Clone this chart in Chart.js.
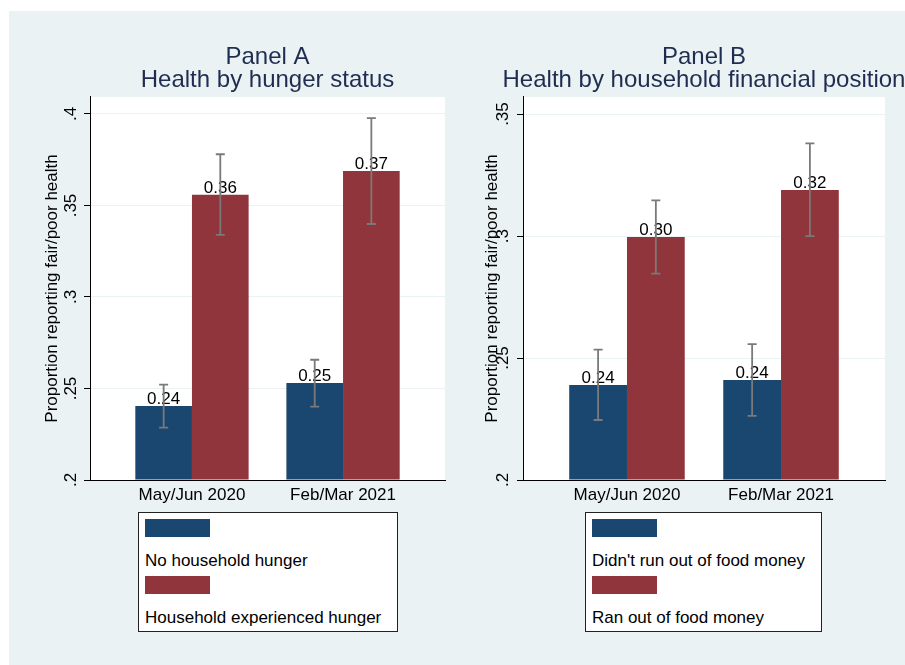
<!DOCTYPE html>
<html>
<head>
<meta charset="utf-8">
<script src="https://cdn.jsdelivr.net/npm/chart.js@4.4.1/dist/chart.umd.min.js"></script>
<style>
  body { margin: 0; background: #fff; width: 905px; height: 665px; overflow: hidden; position: relative; }
  #bg { position: absolute; left: 9px; top: 11px; width: 896px; height: 654px; background: #eaf2f3; }
  canvas { position: absolute; }
  .legend { position: absolute; top: 512px; height: 118px; background: #fff; border: 1px solid #222; }
  .sw { position: absolute; width: 65px; height: 18px; }
  .lt { position: absolute; font: 17px "Liberation Sans", Arial, sans-serif; line-height: 20px; color: #000; white-space: nowrap; }
</style>
</head>
<body>
<div id="bg"></div>
<canvas id="panelA" width="446" height="499" style="left:9px;top:11px"></canvas>
<canvas id="panelB" width="450" height="499" style="left:455px;top:11px"></canvas>
<div class="legend" id="legendA" style="left:138px;width:258px"></div>
<div class="legend" id="legendB" style="left:585px;width:235px"></div>
<script>
const categories = ["May/Jun 2020", "Feb/Mar 2021"]

// Panel A: health by hunger status
const noHungerA = [0.2404, 0.2530]
const noHungerLoA = [0.2286, 0.2401]
const noHungerHiA = [0.2521, 0.2657]
const hungerA = [0.3559, 0.3689]
const hungerLoA = [0.3340, 0.3399]
const hungerHiA = [0.3780, 0.3978]
const yTicksA = [0.2, 0.25, 0.3, 0.35, 0.4]
const yTickLabelsA = [".2", ".25", ".3", ".35", ".4"]

// Panel B: health by household financial position
const noRunOutB = [0.2389, 0.2410]
const noRunOutLoB = [0.2246, 0.2263]
const noRunOutHiB = [0.2534, 0.2557]
const ranOutB = [0.2996, 0.3189]
const ranOutLoB = [0.2846, 0.3000]
const ranOutHiB = [0.3146, 0.3380]
const yTicksB = [0.2, 0.25, 0.3, 0.35]
const yTickLabelsB = [".2", ".25", ".3", ".35"]

const BLUE = "#1a476f"
const RED = "#90353b"
const FONT = '"Liberation Sans", Arial, sans-serif'

/* ---------- PLUGINS ---------- */
const plotBg = {
  id: "plotBg",
  beforeDraw(chart) {
    const a = chart.chartArea
    chart.ctx.save()
    chart.ctx.fillStyle = "#fff"
    chart.ctx.fillRect(a.left, a.top, a.right - a.left, a.bottom - a.top)
    chart.ctx.restore()
  }
}

// title stays centred on the plot but may run wider than it
const wideTitle = {
  id: "wideTitle",
  afterLayout(chart) {
    const t = chart.titleBlock
    if (t) { t.left -= 80; t.right += 80 }
  }
}

const errorBars = {
  id: "errorBars",
  afterDatasetsDraw(chart) {
    const ctx = chart.ctx
    const y = chart.scales.y
    ctx.save()
    chart.data.datasets.forEach((ds, di) => {
      chart.getDatasetMeta(di).data.forEach((bar, i) => {
        // value label
        ctx.fillStyle = "#000"
        ctx.font = "17px " + FONT
        ctx.textAlign = "center"
        ctx.textBaseline = "alphabetic"
        ctx.fillText(ds.data[i].y.toFixed(2), bar.x, bar.y - 2)
        // confidence interval
        const top = y.getPixelForValue(ds.hi[i])
        const bot = y.getPixelForValue(ds.lo[i])
        ctx.strokeStyle = "#7a7a7a"
        ctx.lineWidth = 1.8
        ctx.beginPath()
        ctx.moveTo(bar.x, top); ctx.lineTo(bar.x, bot)
        ctx.moveTo(bar.x - 4.5, top); ctx.lineTo(bar.x + 4.5, top)
        ctx.moveTo(bar.x - 4.5, bot); ctx.lineTo(bar.x + 4.5, bot)
        ctx.stroke()
      })
    })
    ctx.restore()
  }
}

function points(vals) {
  return vals.map((v, i) => ({ x: i + 1, y: v }))
}

function makePanel(id, cfg) {
  return new Chart(document.getElementById(id), {
    type: "bar",
    data: {
      datasets: [
        { data: points(cfg.s1), lo: cfg.lo1, hi: cfg.hi1, backgroundColor: BLUE, base: 0.2 },
        { data: points(cfg.s2), lo: cfg.lo2, hi: cfg.hi2, backgroundColor: RED, base: 0.2 }
      ]
    },
    options: {
      responsive: false,
      animation: false,
      devicePixelRatio: 1,
      categoryPercentage: 0.75,
      barPercentage: 1,
      layout: { padding: { left: 0, right: cfg.padRight, top: 0, bottom: 0 } },
      plugins: {
        legend: { display: false },
        tooltip: { enabled: false },
        title: {
          display: true,
          fullSize: false,
          text: cfg.title,
          color: "#1e2d50",
          font: { family: FONT, size: 24, weight: "normal", lineHeight: 0.96 },
          padding: { top: 34.5, bottom: 5.4 }
        }
      },
      scales: {
        x: {
          type: "linear",
          offset: false,
          min: 0.325,
          max: 2.675,
          afterBuildTicks: s => { s.ticks = categories.map((c, i) => ({ value: i + 1 })) },
          afterFit: s => { s.height = 30 },
          grid: { display: false, drawTicks: false },
          border: { color: "#000", width: 1 },
          ticks: {
            autoSkip: false,
            padding: 5,
            color: "#000",
            font: { family: FONT, size: 17 },
            maxRotation: 0,
            callback: v => categories[v - 1]
          }
        },
        y: {
          min: 0.2,
          max: cfg.yMax,
          afterBuildTicks: s => { s.ticks = cfg.yTicks.map(v => ({ value: v })) },
          afterFit: s => { s.width = cfg.yWidth },
          grid: { color: "#eaf2f3", tickColor: "#000", tickLength: 6, lineWidth: 1 },
          border: { color: "#000", width: 1 },
          ticks: {
            autoSkip: false,
            minRotation: 90,
            maxRotation: 90,
            crossAlign: "center",
            padding: cfg.tickPad,
            color: "#000",
            font: { family: FONT, size: 17 },
            callback: (v, i) => cfg.yTickLabels[i]
          },
          title: {
            display: true,
            text: "Proportion reporting fair/poor health",
            color: "#000",
            font: { family: FONT, size: 17, lineHeight: 1 },
            padding: { top: cfg.titlePad, bottom: 0 }
          }
        }
      }
    },
    plugins: [plotBg, wideTitle, errorBars]
  })
}

makePanel("panelA", {
  title: ["Panel A", "Health by hunger status"],
  s1: noHungerA, lo1: noHungerLoA, hi1: noHungerHiA,
  s2: hungerA, lo2: hungerLoA, hi2: hungerHiA,
  yMax: 0.4093, yTicks: yTicksA, yTickLabels: yTickLabelsA,
  yWidth: 81, padRight: 10, tickPad: 1, titlePad: 34.5
})

makePanel("panelB", {
  title: ["Panel B", "Health by household financial position"],
  s1: noRunOutB, lo1: noRunOutLoB, hi1: noRunOutHiB,
  s2: ranOutB, lo2: ranOutLoB, hi2: ranOutHiB,
  yMax: 0.357, yTicks: yTicksB, yTickLabels: yTickLabelsB,
  yWidth: 68, padRight: 20, tickPad: 2, titlePad: 28.5
})

/* ---------- LEGENDS ---------- */
function makeLegend(id, labels) {
  const box = document.getElementById(id)
  const colors = [BLUE, RED]
  labels.forEach((txt, i) => {
    box.innerHTML += `
      <div class="sw" style="left:6px;top:${6 + i * 57}px;background:${colors[i]}"></div>
      <div class="lt" style="left:6px;top:${38 + i * 57}px">${txt}</div>
    `
  })
}

makeLegend("legendA", ["No household hunger", "Household experienced hunger"])
makeLegend("legendB", ["Didn't run out of food money", "Ran out of food money"])
</script>
</body>
</html>
